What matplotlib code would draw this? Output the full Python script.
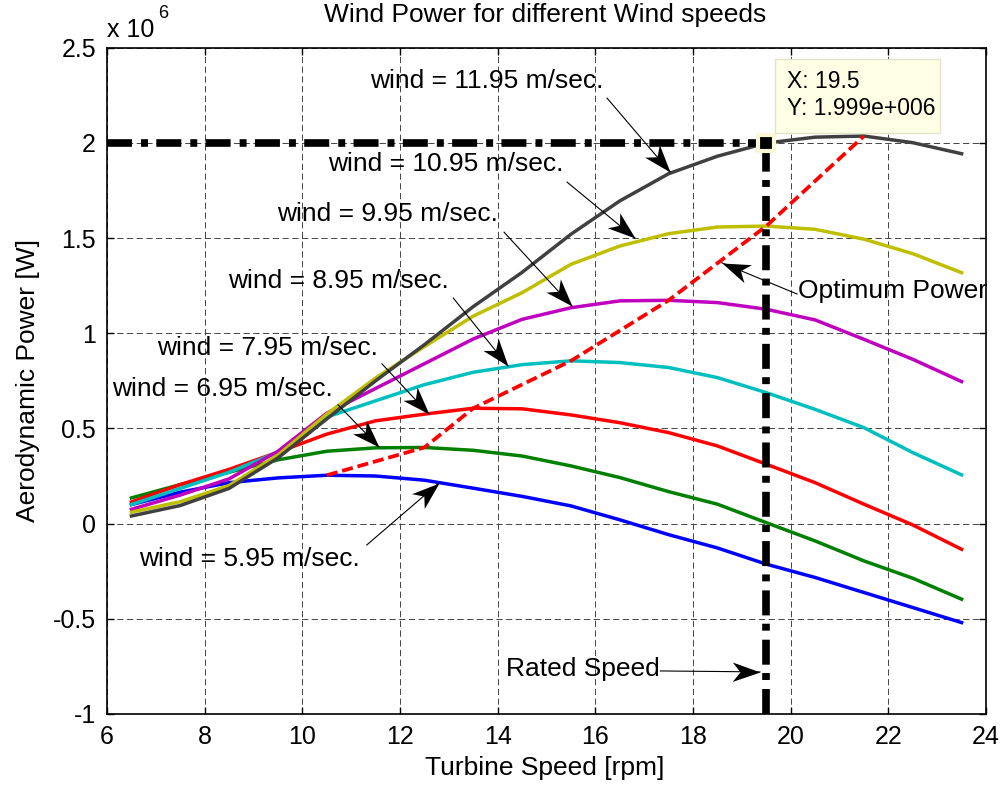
import numpy as np
import matplotlib
matplotlib.use('Agg')
import matplotlib.pyplot as plt
from matplotlib.markers import MarkerStyle
from matplotlib.path import Path
from matplotlib.transforms import Affine2D
from matplotlib.patches import Rectangle

plt.rcParams['font.family'] = ['Liberation Sans', 'DejaVu Sans']
plt.rcParams['lines.scale_dashes'] = False

# turbine speed [rpm]
speed = [6.5, 7.5, 8.5, 9.5, 10.5, 11.5, 12.5, 13.5, 14.5,
         15.5, 16.5, 17.5, 18.5, 19.5, 20.5, 21.5, 22.5, 23.5]

# aerodynamic power [x 1e6 W] for each wind speed
p_595 = [0.10, 0.165, 0.215, 0.24, 0.254, 0.25, 0.228, 0.186, 0.143,
         0.093, 0.02, -0.058, -0.128, -0.213, -0.283, -0.362, -0.441, -0.52]
p_695 = [0.135, 0.205, 0.27, 0.335, 0.38, 0.398, 0.40, 0.385, 0.355,
         0.303, 0.242, 0.168, 0.102, 0.005, -0.091, -0.196, -0.287, -0.397]
p_795 = [0.114, 0.205, 0.285, 0.375, 0.47, 0.54, 0.575, 0.606, 0.603,
         0.571, 0.53, 0.478, 0.408, 0.312, 0.215, 0.102, -0.007, -0.135]
p_895 = [0.10, 0.185, 0.27, 0.375, 0.56, 0.645, 0.73, 0.795, 0.835,
         0.855, 0.846, 0.82, 0.767, 0.688, 0.60, 0.504, 0.373, 0.256]
p_995 = [0.075, 0.15, 0.235, 0.38, 0.58, 0.71, 0.84, 0.97, 1.073,
         1.134, 1.17, 1.173, 1.161, 1.126, 1.07, 0.968, 0.863, 0.746]
p_1095 = [0.06, 0.115, 0.20, 0.36, 0.575, 0.765, 0.93, 1.09, 1.213,
          1.362, 1.458, 1.523, 1.558, 1.563, 1.546, 1.494, 1.418, 1.318]
p_1195 = [0.04, 0.095, 0.185, 0.345, 0.55, 0.75, 0.94, 1.14, 1.32,
          1.52, 1.695, 1.838, 1.93, 1.999, 2.03, 2.036, 2.001, 1.943]

curves = [p_595, p_695, p_795, p_895, p_995, p_1095, p_1195]
colors = ['#0000ff', '#008000', '#ff0000', '#00bfbf', '#bf00bf', '#bfbf00', '#404040']

rated_speed = 19.5
rated_power = p_1195[speed.index(rated_speed)]

xticks = [6, 8, 10, 12, 14, 16, 18, 20, 22, 24]
yticks = [-1, -0.5, 0, 0.5, 1, 1.5, 2, 2.5]

fig = plt.figure(figsize=(10.04, 7.87), dpi=100)
ax = fig.add_axes([0.1066, 0.0928, 0.8755, 0.8466])

for p, c in zip(curves, colors):
    ax.plot(speed, p, color=c, lw=2.5)

# optimum power: peak of every curve
opt_x = [speed[int(np.argmax(p))] for p in curves]
opt_y = [max(p) for p in curves]
ax.plot(opt_x, opt_y, color='r', lw=2.7, dashes=(8, 3.5))

dd = (18, 6.5, 5, 6)
ax.plot([6, rated_speed], [rated_power, rated_power], color='k', lw=5.5,
        dashes=dd, solid_capstyle='butt', dash_capstyle='butt')
ax.plot([rated_speed, rated_speed], [-1, rated_power], color='k', lw=5.5,
        dashes=dd, solid_capstyle='butt', dash_capstyle='butt')
ax.plot(rated_speed, rated_power, 's', ms=12, mfc='k', mec='#fbf8d8', mew=3, zorder=6)

ax.set_xlim(6, 24)
ax.set_ylim(-1, 2.5)
ax.set_xticks(xticks)
ax.set_yticks(yticks)
ax.set_xticklabels(['%g' % t for t in xticks])
ax.set_yticklabels(['%g' % t for t in yticks])
ax.tick_params(direction='in', length=5, width=1, top=True, right=True,
               labelsize=18, pad=8)
ax.grid(True, color='#444444', lw=0.7, linestyle=(0, (4.5, 2.5)))
for s in ax.spines.values():
    s.set_linewidth(1.2)

fig.text(0.543, 0.981, 'Wind Power for different Wind speeds', ha='center', va='center', fontsize=19)
fig.text(0.543, 0.024, 'Turbine Speed [rpm]', ha='center', va='center', fontsize=19)
fig.text(0.028, 0.517, 'Aerodynamic Power [W]', ha='center', va='center', rotation=90, fontsize=19)
fig.text(107 / 1004, 1 - 30 / 787, 'x 10', ha='left', va='center', fontsize=18)
fig.text(158 / 1004, 1 - 14 / 787, '6', ha='left', va='center', fontsize=13)

# arrowhead shape for the text arrows
head = Path([(0, 0), (-1, 0.35), (-0.72, 0), (-1, -0.35), (0, 0)],
            [Path.MOVETO, Path.LINETO, Path.LINETO, Path.LINETO, Path.CLOSEPOLY])


def text_arrow(tail, tip):
    ax.plot([tail[0], tip[0]], [tail[1], tip[1]], color='k', lw=0.8, zorder=7)
    a = ax.transData.transform(tail)
    b = ax.transData.transform(tip)
    ang = np.degrees(np.arctan2(b[1] - a[1], b[0] - a[0]))
    m = MarkerStyle(head, transform=Affine2D().rotate_deg(ang))
    ax.plot(tip[0], tip[1], marker=m, ms=40, color='k', mew=0, zorder=7)


labels = [
    ('wind = 11.95 m/sec.', (13.78, 2.325), (16.24, 2.235), (17.53, 1.847)),
    ('wind = 10.95 m/sec.', (12.93, 1.889), (15.42, 1.794), (16.81, 1.50)),
    ('wind = 9.95 m/sec.', (11.75, 1.626), (14.13, 1.531), (15.52, 1.143)),
    ('wind = 8.95 m/sec.', (10.74, 1.275), (13.09, 1.185), (14.21, 0.828)),
    ('wind = 7.95 m/sec.', (9.28, 0.923), (11.63, 0.839), (12.59, 0.576)),
    ('wind = 6.95 m/sec.', (8.37, 0.707), (10.73, 0.624), (11.57, 0.403)),
    ('wind = 5.95 m/sec.', (8.92, -0.185), (11.32, -0.112), (12.80, 0.214)),
    ('Optimum Power', (22.08, 1.221), (20.13, 1.206), (18.59, 1.37)),
    ('Rated Speed', (15.74, -0.763), (17.33, -0.774), (19.37, -0.779)),
]
for txt, pos, tail, tip in labels:
    ax.text(pos[0], pos[1], txt, ha='center', va='center', fontsize=19, zorder=8)
    text_arrow(tail, tip)

# data tip box
ax.add_patch(Rectangle((19.68, 2.054), 3.38, 0.388, facecolor='#ffffe6',
                       edgecolor='#e4e4cc', lw=1, zorder=9))
ax.text(19.93, 2.325, 'X: %g' % rated_speed, ha='left', va='center', fontsize=16.5, zorder=10)
ax.text(19.93, 2.183, 'Y: %.3fe+006' % rated_power, ha='left', va='center', fontsize=16.5, zorder=10)

fig.savefig('out.png', dpi=100)
